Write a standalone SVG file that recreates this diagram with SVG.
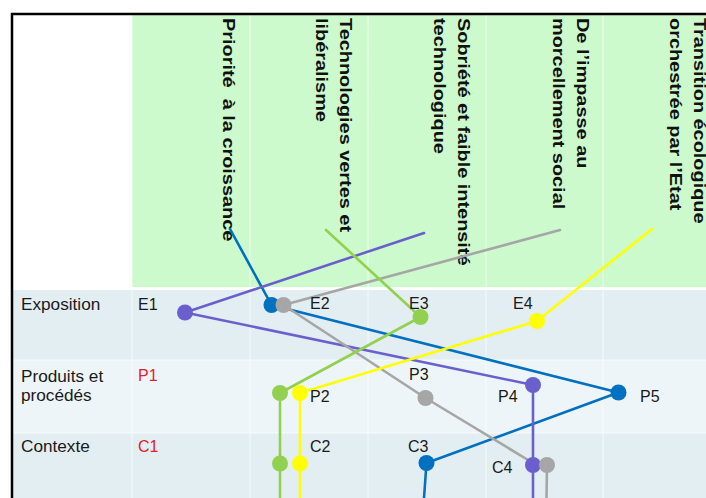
<svg xmlns="http://www.w3.org/2000/svg" width="706" height="498" viewBox="0 0 706 498">
<style>
.hd{font-family:"Liberation Sans",Arial,sans-serif;font-weight:bold;font-size:17px;fill:#111}
.lb{font-family:"Liberation Sans",Arial,sans-serif;font-size:16px;fill:#1a1a1a}
.rh{font-family:"Liberation Sans",Arial,sans-serif;font-size:17.2px;fill:#1a1a1a}
.red{fill:#e5202a}
.ln{fill:none;stroke-width:2.6;stroke-linejoin:round;stroke-linecap:round}
.div{stroke:#ffffff;stroke-width:1;opacity:0.7}
</style>
<rect x="0" y="0" width="706" height="498" fill="#ffffff"/>
<g id="background">
<rect x="132" y="15" width="574" height="272" fill="#ccfacc"/>
<rect x="13" y="290" width="693" height="70" fill="#e3eef3"/>
<rect x="13" y="360" width="693" height="73" fill="#eef5f9"/>
<rect x="13" y="433" width="693" height="65" fill="#e3eef3"/>
<g class="div">
<line x1="132" y1="15" x2="132" y2="498"/>
<line x1="250" y1="15" x2="250" y2="498"/>
<line x1="368" y1="15" x2="368" y2="498"/>
<line x1="486" y1="15" x2="486" y2="498"/>
<line x1="603" y1="15" x2="603" y2="498"/>
<line x1="13" y1="360" x2="706" y2="360"/>
<line x1="13" y1="433" x2="706" y2="433"/>
</g>
<line x1="13" y1="288.5" x2="706" y2="288.5" stroke="#ffffff" stroke-width="3"/>
</g>
<g id="header">
<text class="hd" xml:space="preserve" transform="translate(222.5,18) rotate(90) scale(1.17,1)">Priorité  à la croissance</text>
<text class="hd" transform="translate(340,18) rotate(90) scale(1.17,1)"><tspan x="0" y="0">Technologies vertes et</tspan><tspan x="0" y="24">libéralisme</tspan></text>
<text class="hd" transform="translate(458,18) rotate(90) scale(1.17,1)"><tspan x="0" y="0">Sobriété et faible intensité</tspan><tspan x="0" y="24">technologique</tspan></text>
<text class="hd" transform="translate(577,18) rotate(90) scale(1.17,1)"><tspan x="0" y="0">De l’impasse au</tspan><tspan x="0" y="24">morcellement social</tspan></text>
<text class="hd" transform="translate(694,18) rotate(90) scale(1.17,1)"><tspan x="0" y="0">Transition écologique</tspan><tspan x="0" y="24">orchestrée par l’Etat</tspan></text>
</g>
<g id="row-labels">
<text class="rh" x="21" y="310">Exposition</text>
<text class="rh" x="21" y="381.5">Produits et</text>
<text class="rh" x="21" y="401">procédés</text>
<text class="rh" x="21" y="452">Contexte</text>
</g>
<g id="connectors">
<polyline class="ln" stroke="#0070c0" points="230,229 271.5,305 618.5,392.5 426.5,463 424,498"/>
<polyline class="ln" stroke="#6b5fcd" points="424,233 185,312.5 533,385 533,465 533,498"/>
<polyline class="ln" stroke="#a6a6a6" points="560,230 283.5,305 425.5,398 533,463"/>
<polyline class="ln" stroke="#a6a6a6" points="547,465 546.5,498"/>
<polyline class="ln" stroke="#92d050" points="326,230 420.5,317 280,393 280,463.5 280,498"/>
<polyline class="ln" stroke="#ffff00" points="652,229 537,321 300,393 300,463.5 300,498"/>
</g>
<g id="E1"><circle cx="185" cy="312.5" r="8" fill="#6b5fcd"/><text class="lb" x="138" y="310">E1</text></g>
<g id="E2"><circle cx="271.5" cy="305" r="8" fill="#0070c0"/><circle cx="283.5" cy="305" r="8" fill="#a6a6a6"/><text class="lb" x="310" y="309">E2</text></g>
<g id="E3"><circle cx="420.5" cy="317" r="8" fill="#92d050"/><text class="lb" x="409" y="309">E3</text></g>
<g id="E4"><circle cx="537" cy="321" r="8" fill="#ffff00"/><text class="lb" x="513" y="309">E4</text></g>
<g id="P1"><text class="lb red" x="138" y="381">P1</text></g>
<g id="P2"><circle cx="280" cy="393" r="8" fill="#92d050"/><circle cx="300" cy="393" r="8" fill="#ffff00"/><text class="lb" x="310" y="401.5">P2</text></g>
<g id="P3"><circle cx="425.5" cy="398" r="8" fill="#a6a6a6"/><text class="lb" x="409" y="380">P3</text></g>
<g id="P4"><circle cx="533" cy="385" r="8" fill="#6b5fcd"/><text class="lb" x="498" y="401.5">P4</text></g>
<g id="P5"><circle cx="618.5" cy="392.5" r="8" fill="#0070c0"/><text class="lb" x="640" y="401.5">P5</text></g>
<g id="C1"><text class="lb red" x="138" y="452">C1</text></g>
<g id="C2"><circle cx="280" cy="463.5" r="8" fill="#92d050"/><circle cx="300" cy="463.5" r="8" fill="#ffff00"/><text class="lb" x="310" y="452">C2</text></g>
<g id="C3"><circle cx="426.5" cy="463" r="8" fill="#0070c0"/><text class="lb" x="408" y="451.5">C3</text></g>
<g id="C4"><circle cx="533" cy="465" r="8" fill="#6b5fcd"/><circle cx="547" cy="465" r="8" fill="#a6a6a6"/><text class="lb" x="492" y="473">C4</text></g>
<g id="frame" fill="none" stroke="#000000" stroke-width="2.5">
<path d="M12,498 V14 H706"/>
</g>
</svg>
